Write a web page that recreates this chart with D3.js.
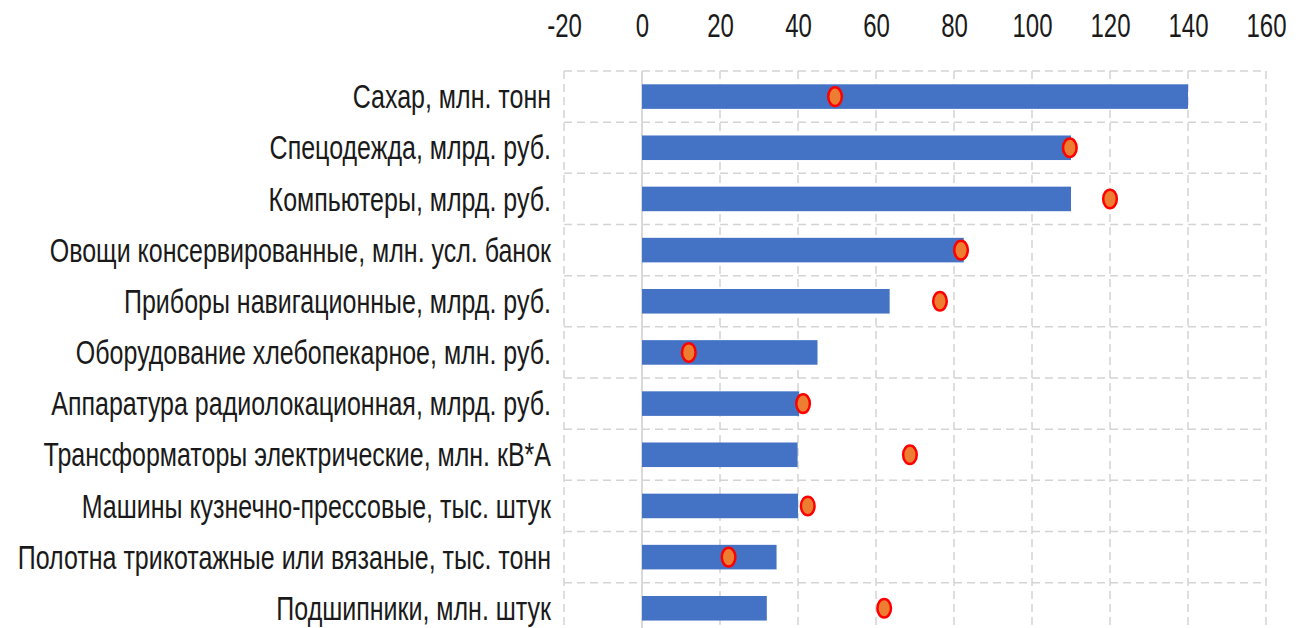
<!DOCTYPE html>
<html>
<head>
<meta charset="utf-8">
<script src="https://cdn.jsdelivr.net/npm/d3@7"></script>
<style>
  body { margin: 0; background: #fff; }
  svg { display: block; }
  text { font-family: "Liberation Sans", Arial, sans-serif; fill: #1a1a1a; }
</style>
</head>
<body>
<div id="chart"></div>
<script>
// data
var categories = [
  "Сахар, млн. тонн",
  "Спецодежда, млрд. руб.",
  "Компьютеры, млрд. руб.",
  "Овощи консервированные, млн. усл. банок",
  "Приборы навигационные, млрд. руб.",
  "Оборудование хлебопекарное, млн. руб.",
  "Аппаратура радиолокационная, млрд. руб.",
  "Трансформаторы электрические, млн. кВ*А",
  "Машины кузнечно-прессовые, тыс. штук",
  "Полотна трикотажные или вязаные, тыс. тонн",
  "Подшипники, млн. штук"
];
var barValues = [140, 110, 110, 82.5, 63.5, 45, 40.3, 39.9, 40, 34.5, 32];
var dotValues = [49.5, 109.7, 120, 81.8, 76.4, 12, 41.3, 68.7, 42.5, 22.2, 62.1];
var xTicks = [-20, 0, 20, 40, 60, 80, 100, 120, 140, 160];

var W = 1311, H = 628;
var plotLeft = 564, plotRight = 1266, plotTop = 71, band = 51.17;

var svg = d3.select("#chart").append("svg")
  .attr("width", W)
  .attr("height", H);

var x = d3.scaleLinear().domain([-20, 160]).range([plotLeft, plotRight]);
var y = d3.scaleBand().domain(categories)
  .range([plotTop, plotTop + band * categories.length])
  .paddingInner(0.52).paddingOuter(0.26);

var grid = svg.append("g").attr("class", "grid");

// horizontal dashed lines at category boundaries
var bounds = d3.range(categories.length + 1).map(function(i) { return plotTop + band * i; });
grid.selectAll("line.h").data(bounds).enter().append("line")
  .attr("class", "h")
  .attr("x1", plotLeft).attr("x2", plotRight)
  .attr("y1", function(d) { return d; }).attr("y2", function(d) { return d; })
  .style("stroke", "#d4d4d4").style("stroke-width", 1.5)
  .style("stroke-dasharray", "8,5");

// vertical dashed lines
grid.selectAll("line.v").data(xTicks.filter(function(d) { return d !== 0; })).enter().append("line")
  .attr("class", "v")
  .attr("x1", function(d) { return x(d); }).attr("x2", function(d) { return x(d); })
  .attr("y1", plotTop).attr("y2", bounds[bounds.length - 1])
  .style("stroke", "#d4d4d4").style("stroke-width", 1.5)
  .style("stroke-dasharray", "8,5");

// zero line
grid.append("line")
  .attr("x1", x(0)).attr("x2", x(0))
  .attr("y1", plotTop).attr("y2", bounds[bounds.length - 1])
  .style("stroke", "#d9d9d9").style("stroke-width", 2);

// bars
svg.append("g").selectAll("rect").data(barValues).enter().append("rect")
  .attr("x", x(0))
  .attr("y", function(d, i) { return y(categories[i]); })
  .attr("width", function(d) { return x(d) - x(0); })
  .attr("height", y.bandwidth())
  .style("fill", "#4472C4");

// dots
svg.append("g").selectAll("ellipse").data(dotValues).enter().append("ellipse")
  .attr("cx", function(d) { return x(d); })
  .attr("cy", function(d, i) { return y(categories[i]) + y.bandwidth() / 2; })
  .attr("rx", 6.8)
  .attr("ry", 9.3)
  .style("fill", "#ED7D31")
  .style("stroke", "#FF0000")
  .style("stroke-width", 2.5);

// top axis labels
var xAxis = svg.append("g")
  .attr("transform", "translate(0,37)")
  .call(d3.axisTop(x).tickValues(xTicks).tickSize(0).tickPadding(0)
    .tickFormat(function(d) { return String(d); }));
xAxis.select(".domain").remove();
xAxis.selectAll("text")
  .attr("y", 0).attr("dy", 0)
  .attr("transform", "scale(1,1.38)")
  .style("font-size", "24px")
  .style("font-family", "'Liberation Sans', Arial, sans-serif")
  .style("fill", "#1a1a1a");

// category labels
var yAxis = svg.append("g")
  .attr("transform", "translate(" + (plotLeft - 13) + ",0)")
  .call(d3.axisLeft(y).tickSize(0).tickPadding(0));
yAxis.select(".domain").remove();
yAxis.selectAll(".tick").each(function() {
  var g = d3.select(this);
  var ty = +g.attr("transform").match(/,([\d.]+)\)/)[1];
  g.attr("transform", "translate(0," + ty + ") scale(1,1.3)");
});
yAxis.selectAll("text")
  .attr("x", 0).attr("dy", "0.36em")
  .style("font-size", "25px")
  .style("font-family", "'Liberation Sans', Arial, sans-serif")
  .style("fill", "#1a1a1a");
</script>
</body>
</html>
